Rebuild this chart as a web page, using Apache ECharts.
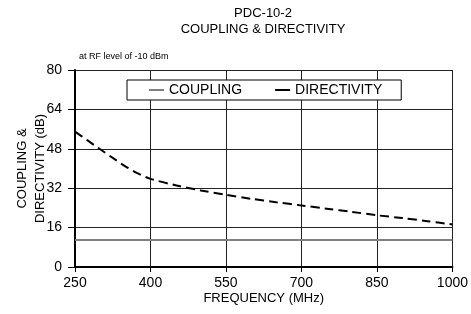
<!DOCTYPE html>
<html>
<head>
<meta charset="utf-8">
<script src="https://cdn.jsdelivr.net/npm/echarts@6/dist/echarts.min.js"></script>
<style>html,body{margin:0;padding:0;background:#fff}#c{width:471px;height:314px}</style>
</head>
<body>
<div id="c"></div>
<script>
var freqs = [250, 275, 300, 325, 350, 375, 400, 450, 500, 550, 600, 650, 700, 750, 800, 850, 900, 950, 1000];
var directivity = [55, 51.4, 47.8, 44.3, 40.9, 38.0, 35.8, 33.2, 31.1, 29.3, 27.7, 26.3, 25.0, 23.7, 22.4, 21.0, 19.9, 18.6, 17.3];
var couplingFreqs = [250, 1000];
var coupling = [11, 11];
var xTicks = [250, 400, 550, 700, 850, 1000];
var yTicks = [0, 16, 32, 48, 64, 80];

var chart = echarts.init(document.getElementById('c'));
var F = 'Liberation Sans, Arial, sans-serif';
chart.setOption({
  animation: false,
  backgroundColor: '#fff',
  title: [{
    text: 'PDC-10-2\nCOUPLING & DIRECTIVITY',
    left: 258, top: 0, textAlign: 'center',
    textStyle: {fontFamily: F, fontSize: 13, fontWeight: 'normal', color: '#000', lineHeight: 16}
  }, {
    text: 'at RF level of -10 dBm',
    left: 74, top: 47,
    textStyle: {fontFamily: F, fontSize: 9, fontWeight: 'normal', color: '#000'}
  }],
  legend: {
    left: 127, top: 80,
    backgroundColor: '#fff', borderColor: '#000', borderWidth: 1,
    padding: [3, 19, 3, 22],
    itemWidth: 15, itemHeight: 2, itemGap: 33,
    icon: 'rect',
    textStyle: {fontFamily: F, fontSize: 14, color: '#000'},
    data: [{name: 'COUPLING', itemStyle: {color: '#808080'}}, {name: 'DIRECTIVITY', itemStyle: {color: '#000'}}]
  },
  grid: {left: 75, right: 18, top: 70, bottom: 47},
  xAxis: {
    type: 'value', min: xTicks[0], max: xTicks[xTicks.length - 1], interval: 150,
    name: 'FREQUENCY (MHz)', nameLocation: 'middle', nameGap: 25, nameMoveOverlap: false,
    nameTextStyle: {fontFamily: F, fontSize: 13, color: '#000'},
    axisLine: {lineStyle: {color: '#000', width: 2}},
    axisTick: {show: true, length: 5, lineStyle: {color: '#000'}},
    axisLabel: {fontFamily: F, fontSize: 14, color: '#000', margin: 9, formatter: function (v) { return String(v); }},
    splitLine: {show: true, lineStyle: {color: '#222', width: 1}}
  },
  yAxis: {
    type: 'value', min: yTicks[0], max: yTicks[yTicks.length - 1], interval: 16,
    name: 'COUPLING &\nDIRECTIVITY (dB)', nameLocation: 'middle', nameGap: 26, nameMoveOverlap: false,
    nameTextStyle: {fontFamily: F, fontSize: 13, color: '#000', lineHeight: 18},
    axisLine: {show: true, lineStyle: {color: '#000', width: 2}},
    axisTick: {show: true, length: 7, lineStyle: {color: '#000'}},
    axisLabel: {fontFamily: F, fontSize: 14, color: '#000', margin: 13},
    splitLine: {show: true, lineStyle: {color: '#222', width: 1}}
  },
  series: [{
    name: 'COUPLING', type: 'line', symbol: 'none',
    data: couplingFreqs.map(function (f, i) { return [f, coupling[i]]; }),
    lineStyle: {color: '#808080', width: 2},
    itemStyle: {color: '#808080'}
  }, {
    name: 'DIRECTIVITY', type: 'line', symbol: 'none', smooth: 0.3,
    data: freqs.map(function (f, i) { return [f, directivity[i]]; }),
    lineStyle: {color: '#000', width: 2, type: [9, 5]},
    itemStyle: {color: '#000'}
  }]
});
</script>
</body>
</html>
